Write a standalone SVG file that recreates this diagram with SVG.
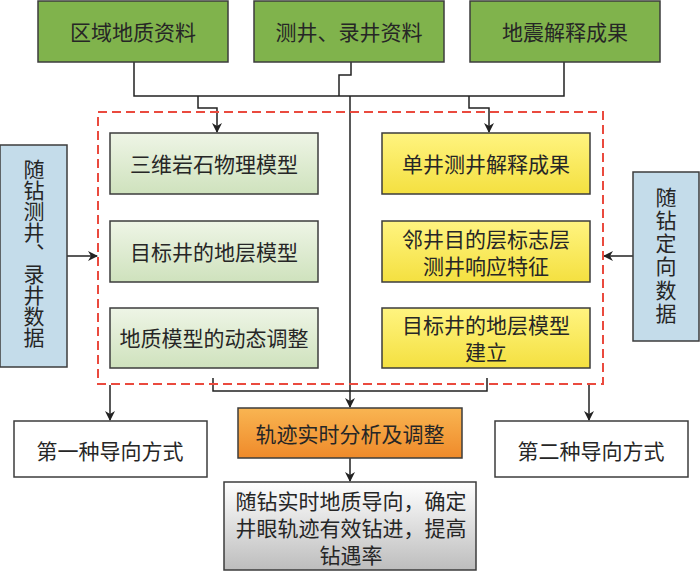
<svg xmlns="http://www.w3.org/2000/svg" width="700" height="571" viewBox="0 0 700 571">
<defs>
<linearGradient id="gGreen" x1="0" y1="0" x2="0" y2="1"><stop offset="0" stop-color="#eef5e6"/><stop offset="1" stop-color="#cfe2bd"/></linearGradient>
<linearGradient id="gYellow" x1="0" y1="0" x2="0" y2="1"><stop offset="0" stop-color="#fff480"/><stop offset="1" stop-color="#f4e040"/></linearGradient>
<linearGradient id="gOrange" x1="0" y1="0" x2="0" y2="1"><stop offset="0" stop-color="#f9b552"/><stop offset="1" stop-color="#ef8a2a"/></linearGradient>
<linearGradient id="gGrey" x1="0" y1="0" x2="0" y2="1"><stop offset="0" stop-color="#ffffff"/><stop offset="1" stop-color="#bdbdbd"/></linearGradient>
<marker id="arr" markerWidth="10" markerHeight="10" refX="9" refY="5" orient="auto" markerUnits="userSpaceOnUse">
<path d="M0,0 L10,5 L0,10 L3,5 Z" fill="#222"/>
</marker>
<style>
.box{stroke:#3c3c3c;stroke-width:1.5}
.top{fill:#80b34c}
.grn{fill:url(#gGreen)}
.yel{fill:url(#gYellow)}
.blu{fill:#c4dcea}
.wht{fill:#ffffff}
.t{font-family:"Noto Sans CJK SC","Noto Sans",sans-serif;font-size:21px;fill:#262626;text-anchor:middle;dominant-baseline:central}
.v{font-family:"Noto Sans CJK SC","Noto Sans",sans-serif;font-size:21px;fill:#262626;text-anchor:middle;writing-mode:vertical-rl}
.ln{fill:none;stroke:#222;stroke-width:1.5}
.dash{fill:none;stroke:#ea4a3e;stroke-width:2;stroke-dasharray:9 5}
</style>
</defs>

<g id="connectors">
<path class="ln" d="M134,62 V96 H564 V62"/>
<path class="ln" d="M351,62 V75 H339 V96"/>
<path class="ln" d="M198,96 V108 H217 V132" marker-end="url(#arr)"/>
<path class="ln" d="M469,96 V108 H489 V132" marker-end="url(#arr)"/>
<path class="ln" d="M350,96 V391"/>
<path class="ln" d="M213,378 V391 H487 V378"/>
<path class="ln" d="M350,391 V407" marker-end="url(#arr)"/>
<path class="ln" d="M67,256 H97" marker-end="url(#arr)"/>
<path class="ln" d="M633,256 H604" marker-end="url(#arr)"/>
<path class="ln" d="M110,385 V420" marker-end="url(#arr)"/>
<path class="ln" d="M589,385 V420" marker-end="url(#arr)"/>
<path class="ln" d="M350,458 V481" marker-end="url(#arr)"/>
</g>

<rect id="dashed-frame" class="dash" x="98" y="112" width="505" height="272"/>

<g id="n-regional">
<rect class="box top" x="38" y="1" width="190" height="61"/>
<text class="t" x="133" y="31">区域地质资料</text>
</g>
<g id="n-logging">
<rect class="box top" x="254" y="1" width="190" height="61"/>
<text class="t" x="349" y="31">测井、录井资料</text>
</g>
<g id="n-seismic">
<rect class="box top" x="470" y="1" width="190" height="61"/>
<text class="t" x="565" y="31">地震解释成果</text>
</g>

<g id="n-3d">
<rect class="box grn" x="110" y="133" width="208" height="61"/>
<text class="t" x="214" y="163">三维岩石物理模型</text>
</g>
<g id="n-strat">
<rect class="box grn" x="110" y="221" width="208" height="61"/>
<text class="t" x="214" y="251">目标井的地层模型</text>
</g>
<g id="n-dyn">
<rect class="box grn" x="110" y="308" width="208" height="60"/>
<text class="t" x="214" y="337">地质模型的动态调整</text>
</g>

<g id="n-single">
<rect class="box yel" x="382" y="133" width="208" height="61"/>
<text class="t" x="486" y="163">单井测井解释成果</text>
</g>
<g id="n-neighbor">
<rect class="box yel" x="382" y="221" width="208" height="61"/>
<text class="t" x="486" y="238"><tspan x="486" y="238">邻井目的层标志层</tspan><tspan x="486" y="265">测井响应特征</tspan></text>
</g>
<g id="n-build">
<rect class="box yel" x="382" y="308" width="208" height="60"/>
<text class="t" x="486" y="323.5"><tspan x="486" y="323.5">目标井的地层模型</tspan><tspan x="486" y="350.5">建立</tspan></text>
</g>

<g id="n-lwd">
<rect class="box blu" x="0" y="145" width="67" height="222"/>
<text class="v" x="34" y="253">随钻测井、录井数据</text>
</g>

<g id="n-dir">
<rect class="box blu" x="633" y="172" width="66" height="169"/>
<text class="v" x="666" y="256" letter-spacing="2.3">随钻定向数据</text>
</g>

<g id="n-first">
<rect class="box wht" x="14" y="421" width="193" height="56"/>
<text class="t" x="110" y="450">第一种导向方式</text>
</g>
<g id="n-track">
<rect class="box" fill="url(#gOrange)" x="238" y="408" width="224" height="50"/>
<text class="t" x="350" y="433">轨迹实时分析及调整</text>
</g>
<g id="n-second">
<rect class="box wht" x="495" y="421" width="193" height="56"/>
<text class="t" x="591" y="450">第二种导向方式</text>
</g>
<g id="n-result">
<rect class="box" fill="url(#gGrey)" x="224" y="482" width="252" height="88"/>
<text class="t" x="351" y="499.5"><tspan x="351" y="499.5">随钻实时地质导向，确定</tspan><tspan x="351" y="526.5">井眼轨迹有效钻进，提高</tspan><tspan x="351" y="553.5">钻遇率</tspan></text>
</g>
</svg>
